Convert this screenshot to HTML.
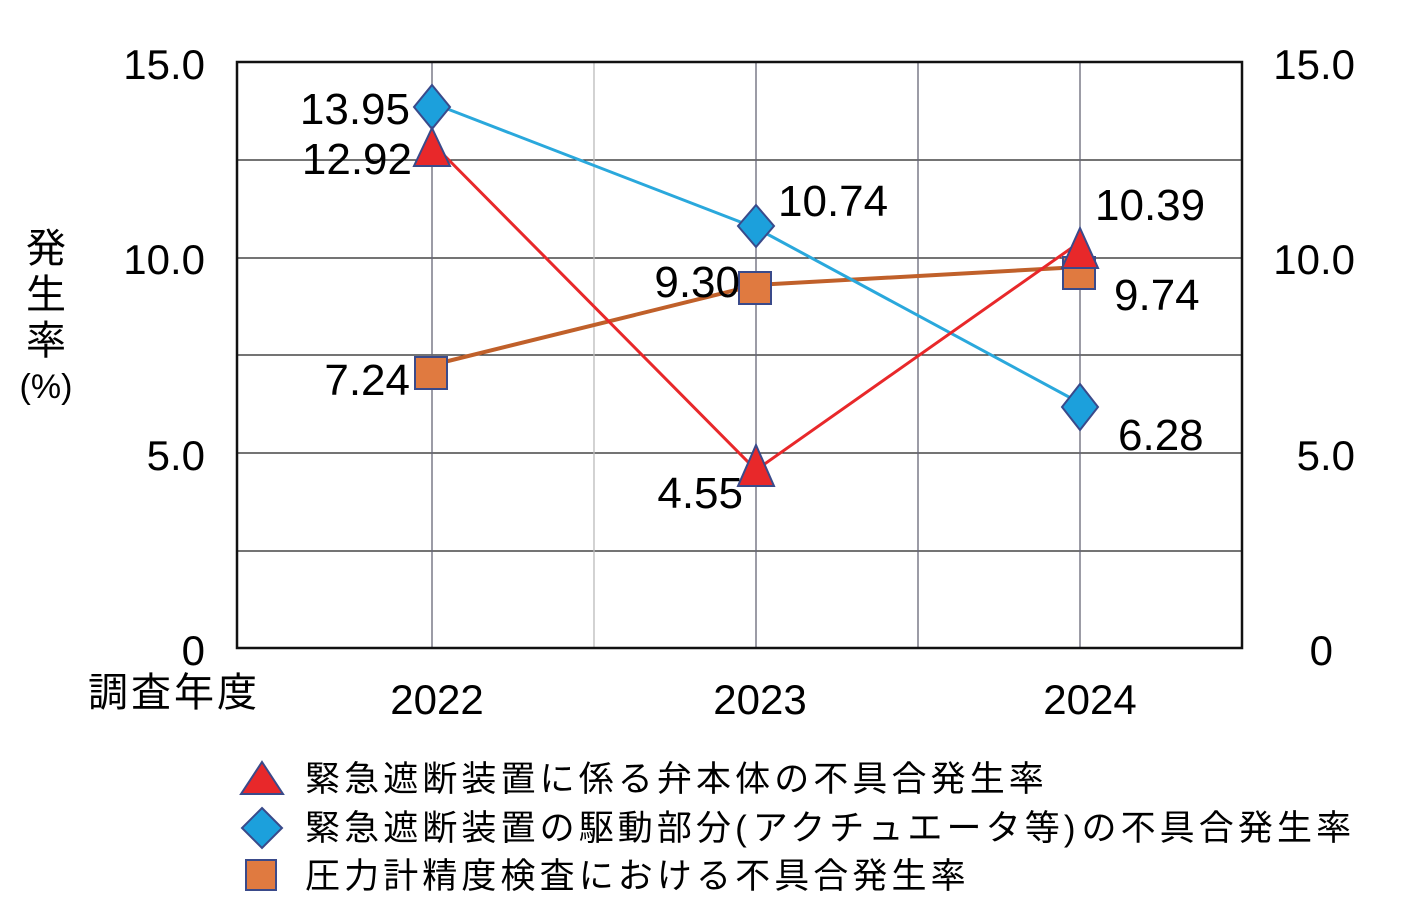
<!DOCTYPE html>
<html><head><meta charset="utf-8"><style>
html,body{margin:0;padding:0;background:#fff;}
svg text{font-family:"Liberation Sans Narrow","Liberation Sans","Noto Sans CJK JP",sans-serif;fill:#000;}
.j{font-family:"Liberation Sans","Noto Sans CJK JP",sans-serif;}
</style></head><body>
<svg width="1409" height="901" viewBox="0 0 1409 901" xmlns="http://www.w3.org/2000/svg">
<rect width="1409" height="901" fill="#fff"/>
<g stroke="#222" stroke-width="1.3">
<line x1="237" y1="160" x2="1242" y2="160"/>
<line x1="237" y1="258" x2="1242" y2="258"/>
<line x1="237" y1="355" x2="1242" y2="355"/>
<line x1="237" y1="453" x2="1242" y2="453"/>
<line x1="237" y1="551" x2="1242" y2="551"/>
</g>
<g stroke="#667" stroke-width="1.3">
<line x1="432" y1="62" x2="432" y2="648"/>
<line x1="594" y1="62" x2="594" y2="648" stroke="#bbb"/>
<line x1="756" y1="62" x2="756" y2="648"/>
<line x1="918" y1="62" x2="918" y2="648"/>
<line x1="1080" y1="62" x2="1080" y2="648"/>
</g>
<rect x="237" y="62" width="1005" height="586" fill="none" stroke="#111" stroke-width="2.5"/>
<g font-size="42" text-anchor="end">
<text x="205" y="79">15.0</text><text x="205" y="274">10.0</text><text x="205" y="470">5.0</text><text x="205" y="665">0</text>
</g>
<g font-size="42" text-anchor="end">
<text x="1355" y="79">15.0</text><text x="1355" y="274">10.0</text><text x="1355" y="470">5.0</text><text x="1333" y="665">0</text>
</g>
<g font-size="42" text-anchor="middle">
<text x="437" y="714">2022</text><text x="760" y="714">2023</text><text x="1090" y="714">2024</text>
</g>
<text class="j" x="88" y="706" font-size="40" letter-spacing="3">調査年度</text>
<g class="j" font-size="40" text-anchor="middle">
<text class="j" x="46" y="262">発</text><text class="j" x="46" y="308">生</text><text class="j" x="46" y="354">率</text>
<text class="j" x="46" y="398" font-size="34">(%)</text>
</g>
<polyline points="432,365 756,285 1080,267" fill="none" stroke="#c0602a" stroke-width="4"/>
<polyline points="432,103 756,228 1080,403" fill="none" stroke="#2aa8dc" stroke-width="3"/>
<polyline points="432,143 756,470 1080,242" fill="none" stroke="#e8282a" stroke-width="3"/>
<g fill="#e07a40" stroke="#3a4a8a" stroke-width="2">
<rect x="415" y="357" width="32" height="32"/><rect x="739" y="272" width="32" height="32"/><rect x="1063" y="257" width="32" height="32"/>
</g>
<g fill="#1ca0dc" stroke="#3a4a8a" stroke-width="2">
<polygon points="432,85 450,107 432,129 414,107"/><polygon points="756,205 774,226 756,247 738,226"/><polygon points="1080,384 1098,407 1080,430 1062,407"/>
</g>
<g fill="#e8282a" stroke="#3a4a8a" stroke-width="2">
<polygon points="432,128 450,166 414,166"/><polygon points="756,445 774,486 738,486"/><polygon points="1080,228 1098,268 1062,268"/>
</g>
<g font-size="44">
<text x="410" y="124" text-anchor="end">13.95</text>
<text x="412" y="174" text-anchor="end">12.92</text>
<text x="778" y="216">10.74</text>
<text x="1095" y="220">10.39</text>
<text x="740" y="297" text-anchor="end">9.30</text>
<text x="1114" y="310">9.74</text>
<text x="410" y="395" text-anchor="end">7.24</text>
<text x="743" y="508" text-anchor="end">4.55</text>
<text x="1118" y="450">6.28</text>
</g>
<polygon points="262,762 283,794 241,794" fill="#e8282a" stroke="#3a4a8a" stroke-width="2"/>
<polygon points="262,808 282,828 262,848 242,828" fill="#1ca0dc" stroke="#3a4a8a" stroke-width="2"/>
<rect x="246" y="860" width="30" height="30" fill="#e07a40" stroke="#3a4a8a" stroke-width="2"/>
<g class="j" font-size="35" letter-spacing="4.1">
<text class="j" x="305" y="791">緊急遮断装置に係る弁本体の不具合発生率</text>
<text class="j" x="305" y="840">緊急遮断装置の駆動部分<tspan letter-spacing="6">(</tspan>アクチュエータ等<tspan letter-spacing="6">)</tspan>の不具合発生率</text>
<text class="j" x="305" y="888">圧力計精度検査における不具合発生率</text>
</g>
</svg>
</body></html>
